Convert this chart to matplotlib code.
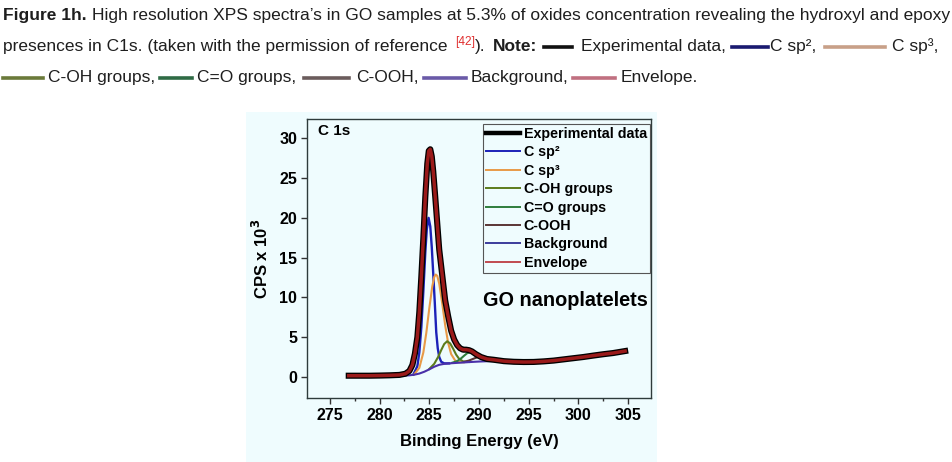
import matplotlib
matplotlib.use('Agg')
import matplotlib.pyplot as plt
from matplotlib.lines import Line2D
from matplotlib.patches import Rectangle

# ---- data (binding energy in eV, CPS x 10^3) ----
env_e = [276.9, 278.0, 279.0, 280.0, 281.0, 282.0, 282.6, 283.0, 283.3, 283.55,
         283.8, 284.0, 284.2, 284.4, 284.6, 284.8, 284.95, 285.1, 285.25, 285.4,
         285.6, 285.8, 286.0, 286.3, 286.6, 286.9, 287.2, 287.5, 287.8, 288.1,
         288.4, 288.7, 289.0, 289.3, 289.7, 290.2, 290.8, 291.5, 292.5, 293.5,
         294.5, 295.5, 296.5, 297.5, 298.5, 299.5, 300.5, 301.5, 302.5, 303.5, 304.7]
env_y = [0.15, 0.15, 0.15, 0.17, 0.2, 0.25, 0.4, 0.75, 1.5, 2.9,
         5.0, 8.2, 12.6, 17.4, 22.6, 26.8, 28.4, 28.6, 27.7, 25.8,
         22.6, 19.3, 16.0, 12.8, 9.6, 7.6, 5.8, 4.7, 4.0, 3.6,
         3.42, 3.42, 3.36, 3.2, 2.85, 2.5, 2.25, 2.15, 1.98, 1.9,
         1.87, 1.88, 1.95, 2.05, 2.2, 2.35, 2.5, 2.68, 2.85, 3.0, 3.25]
exp_e = env_e
exp_y = env_y

sp2_e = [283.4, 283.8, 284.0, 284.2, 284.4, 284.6, 284.75, 284.93, 285.1, 285.25,
         285.4, 285.55, 285.7, 285.85, 286.0, 286.2, 286.5, 287.0]
sp2_y = [0.3, 1.35, 3.1, 6.25, 10.7, 15.65, 18.55, 19.98, 18.9, 16.3,
         12.9, 9.4, 5.6, 3.6, 2.5, 1.9, 1.7, 1.7]

sp3_e = [283.5, 284.0, 284.4, 284.7, 285.0, 285.3, 285.5, 285.65, 285.8, 286.0,
         286.3, 286.6, 286.9, 287.2, 287.6, 288.0, 288.5]
sp3_y = [0.34, 1.14, 3.06, 5.53, 8.61, 11.37, 12.56, 12.86, 12.69, 11.72,
         9.24, 6.47, 4.25, 2.86, 2.06, 1.86, 1.84]

coh_e = [285.0, 285.5, 285.9, 286.2, 286.5, 286.8, 287.1, 287.4, 287.7, 288.0, 288.4, 289.0]
coh_y = [1.0, 1.65, 2.53, 3.37, 4.13, 4.48, 4.21, 3.54, 2.8, 2.27, 1.95, 1.88]

co_e = [287.3, 287.8, 288.2, 288.5, 288.8, 289.1, 289.4, 289.7, 290.0, 290.4, 290.9, 291.5]
co_y = [1.78, 1.98, 2.33, 2.66, 2.97, 3.1, 3.01, 2.74, 2.46, 2.16, 2.04, 2.0]

cooh_e = [288.5, 289.0, 289.5, 289.9, 290.2, 290.5, 290.9, 291.4, 291.9, 292.4]
cooh_y = [1.89, 2.06, 2.31, 2.5, 2.56, 2.53, 2.4, 2.18, 2.05, 2.0]

bg_e = [282.5, 283.0, 283.5, 284.0, 284.5, 285.0, 285.5, 286.0, 286.5, 287.0,
        288.0, 289.0, 290.0, 291.0, 292.0]
bg_y = [0.17, 0.2, 0.28, 0.42, 0.65, 0.95, 1.28, 1.52, 1.64, 1.7,
        1.78, 1.86, 1.93, 1.98, 2.0]

labels = ['Experimental data', 'C sp\u00b2', 'C sp\u00b3', 'C-OH groups',
          'C=O groups', 'C-OOH', 'Background', 'Envelope']

W, H = 952, 462
BG = '#effcfe'
SANS = ['Liberation Sans', 'DejaVu Sans']
plt.rcParams['font.family'] = SANS

fig = plt.figure(figsize=(W / 100, H / 100), dpi=100)
renderer = fig.canvas.get_renderer()

# light panel behind the chart
fig.add_artist(Rectangle((246 / W, 0), (657 - 246) / W, (462 - 112) / H,
                         transform=fig.transFigure, facecolor=BG, edgecolor='none', zorder=0))

ax = fig.add_axes([307 / W, 1 - 398 / H, (651 - 307) / W, (398 - 119) / H])
ax.set_facecolor(BG)

ax.plot(sp2_e, sp2_y, color='#1c22b8', lw=1.7, zorder=2)
ax.plot(sp3_e, sp3_y, color='#e89a48', lw=1.5, zorder=2)
ax.plot(coh_e, coh_y, color='#5c7c1c', lw=1.5, zorder=2)
ax.plot(co_e, co_y, color='#2e7d3c', lw=1.5, zorder=2)
ax.plot(cooh_e, cooh_y, color='#5a3535', lw=1.5, zorder=2)
ax.plot(bg_e, bg_y, color='#4a30a8', lw=1.5, zorder=2)
ax.plot(exp_e, exp_y, color='black', lw=4.4, zorder=3)
ax.plot(env_e, env_y, color='#9a1a1a', lw=2.5, zorder=4)

ax.set_xlim(272.7, 307.3)
ax.set_ylim(-2.65, 32.4)
ax.set_xticks([275, 280, 285, 290, 295, 300, 305])
ax.set_xticks([277.5, 282.5, 287.5, 292.5, 297.5, 302.5], minor=True)
ax.set_yticks([0, 5, 10, 15, 20, 25, 30])
ax.tick_params(which='major', direction='out', length=4, width=1, color='#333',
               labelsize=11.5, pad=3)
ax.tick_params(which='minor', direction='out', length=2.5, width=1, color='#333')
for lab in ax.get_xticklabels() + ax.get_yticklabels():
    lab.set_fontweight('bold')
for sp in ax.spines.values():
    sp.set_color('#2e3b3b')
    sp.set_linewidth(1.0)

ax.set_xlabel('Binding Energy (eV)', fontsize=12, fontweight='bold', labelpad=8)
ax.set_ylabel('CPS x 10$^{\\mathbf{3}}$', fontsize=12, fontweight='bold', labelpad=6)

ax.text(0.032, 0.958, 'C 1s', transform=ax.transAxes, fontsize=11, fontweight='bold',
        ha='left', va='center')
ax.text(0.512, 0.351, 'GO nanoplatelets', transform=ax.transAxes, fontsize=14.3,
        fontweight='bold', ha='left', va='center')

handles = [Line2D([], [], color='black', lw=3.2),
           Line2D([], [], color='#1c22b8', lw=1.4),
           Line2D([], [], color='#e89a48', lw=1.4),
           Line2D([], [], color='#5c7c1c', lw=1.4),
           Line2D([], [], color='#2e7d3c', lw=1.4),
           Line2D([], [], color='#5a3535', lw=1.4),
           Line2D([], [], color='#3c3c9c', lw=1.4),
           Line2D([], [], color='#c04a50', lw=1.4)]
leg = ax.legend(handles, labels, loc='upper right', bbox_to_anchor=(0.997, 0.982),
                borderaxespad=0, prop={'weight': 'bold', 'size': 10.3},
                handlelength=2.4, handletextpad=0.25, labelspacing=0.31,
                borderpad=0.2, fancybox=False, framealpha=1, facecolor=BG,
                edgecolor='#555555')
leg.get_frame().set_linewidth(0.8)

# ---- caption above the chart ----
CAP = '#1e1e1e'


def tw(s, fs, weight='normal'):
    t = fig.text(0, 0, s, fontsize=fs, fontweight=weight)
    w = t.get_window_extent(renderer).width
    t.remove()
    return w


def caption_line(parts, y, fs, draw=True, x0=3):
    space = tw('x x', fs) - tw('xx', fs)
    x = x0
    for p in parts:
        kind = p[0]
        if kind == 'gap':
            x += space * p[1]
        elif kind == 'sw':
            if draw:
                fig.add_artist(Line2D([x / W, (x + p[2]) / W], [1 - (y - 4) / H] * 2,
                                      color=p[1], lw=2.6, transform=fig.transFigure))
            x += p[2]
        else:
            txt = p[1]
            weight = p[2] if len(p) > 2 else 'normal'
            color = p[3] if len(p) > 3 else CAP
            size = fs * 0.68 if kind == 'sup' else fs
            yy = y - (fs * 0.5 if kind == 'sup' else 0)
            if draw:
                fig.text(x / W, 1 - yy / H, txt, fontsize=size, fontweight=weight,
                         color=color, ha='left', va='baseline')
            x += tw(txt, size, weight)
    return x - x0


line1 = [('t', 'Figure 1h.', 'bold'), ('gap', 1),
         ('t', 'High resolution XPS spectra\u2019s in GO samples at 5.3% of oxides '
               'concentration revealing the hydroxyl and epoxy')]
line2 = [('t', 'presences in C1s. (taken with the permission of reference'), ('gap', 1.5),
         ('sup', '[42]', 'normal', '#e03030'), ('t', ').'), ('gap', 1.5),
         ('t', 'Note:', 'bold'), ('gap', 1.5), ('sw', '#111111', 28), ('gap', 1.8),
         ('t', 'Experimental data,'), ('gap', 1.2), ('sw', '#1a1a70', 36), ('gap', 0.4),
         ('t', 'C sp\u00b2,'), ('gap', 1.8), ('sw', '#c8a088', 60), ('gap', 1.5),
         ('t', 'C sp\u00b3,')]
line3 = [('sw', '#6b7a3a', 40), ('gap', 1), ('t', 'C-OH groups,'), ('gap', 1),
         ('sw', '#2f6b45', 32), ('gap', 1), ('t', 'C=O groups,'), ('gap', 1.6),
         ('sw', '#6b5c5c', 45), ('gap', 1.6), ('t', 'C-OOH,'), ('gap', 1),
         ('sw', '#6a5aa8', 42), ('gap', 1), ('t', 'Background,'), ('gap', 1),
         ('sw', '#c07080', 42), ('gap', 1), ('t', 'Envelope.')]

fs0 = 11.0
w1 = caption_line(line1, 20, fs0, draw=False)
fs = fs0 * 944 / w1
caption_line(line1, 20, fs)
caption_line(line2, 51, fs)
caption_line(line3, 82, fs)

fig.savefig('out.png', dpi=100, facecolor='white')
